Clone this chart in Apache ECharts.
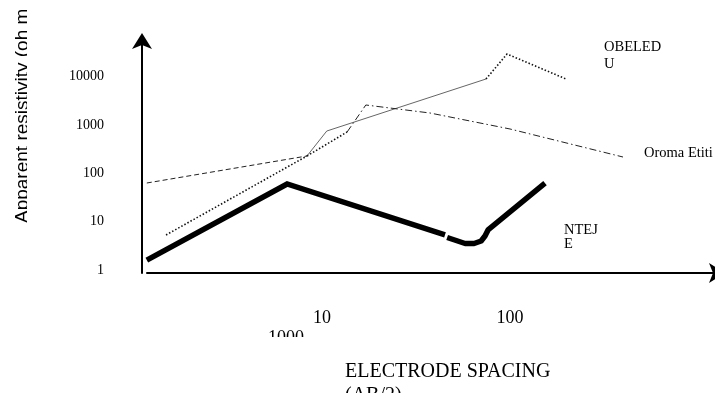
<!DOCTYPE html>
<html>
<head>
<meta charset="utf-8">
<script src="https://cdn.jsdelivr.net/npm/echarts@6/dist/echarts.min.js"></script>
<style>
html,body{margin:0;padding:0;background:#fff;}
#chart{width:715px;height:393px;}
</style>
</head>
<body>
<div id="chart"></div>
<script>
// Tick labels
const xTickValues = [10, 100];
const yTickValues = [1, 10, 100, 1000, 10000];

// Series values: [AB/2 spacing, apparent resistivity (ohm m)]
// NTEJE (thick solid), in two pieces (small break in the drawing)
const ntejeA = [[1.17, 1.62], [6.52, 60.4], [45.1, 5.34]];
const ntejeB = [[46.3, 4.74], [57.7, 3.56], [64.4, 3.56], [70.2, 4.01], [73.6, 5.09], [76.4, 6.77], [153.5, 63.3]];

// OBELEDU: dotted start, thin solid middle, dotted end
const obeleduA = [[1.48, 5.34], [8.32, 229]];
const obeleduB = [[8.32, 229], [10.6, 751], [74.5, 8920]];
const obeleduC = [[74.5, 8920], [96.4, 29300], [198.6, 8920]];

// Oroma Etiti: dashed start, dotted piece, dash-dot end
const oromaA = [[1.17, 63.3], [8.32, 229]];
const oromaB = [[8.32, 229], [13.6, 717]];
const oromaC = [[13.6, 717], [17.1, 2590], [37.5, 1770], [100, 827], [399, 218]];

const chart = echarts.init(document.getElementById('chart'), null, {renderer: 'canvas'});

function seg(name, data, style) {
  return {
    name: name, type: 'line', data: data, symbol: 'none', showSymbol: false,
    silent: true, animation: false,
    lineStyle: Object.assign({join: 'miter', cap: 'butt'}, style)
  };
}

const serifFont = '"Liberation Serif", "Times New Roman", serif';

chart.setOption({
  animation: false,
  backgroundColor: '#ffffff',
  grid: {left: 147, right: 0, top: 41, bottom: 120, containLabel: false, outerBoundsMode: 'none'},
  xAxis: {
    type: 'log', logBase: 10, min: 1.1725, max: 1231,
    axisLine: {show: true, symbol: ['none', 'arrow'], symbolSize: [15, 16], symbolOffset: [0, 10],
      lineStyle: {color: '#000', width: 2}},
    axisTick: {show: false},
    splitLine: {show: false},
    minorTick: {show: false},
    axisLabel: {
      customValues: xTickValues,
      formatter: function (v) { return String(Math.round(v)); },
      margin: 36, color: '#000', fontFamily: serifFont, fontSize: 18
    }
  },
  yAxis: {
    type: 'log', logBase: 10, min: 0.875, max: 54400,
    offset: 5,
    axisLine: {show: true, symbol: ['none', 'arrow'], symbolSize: [15, 16], symbolOffset: [0, 8],
      lineStyle: {color: '#000', width: 2}},
    axisTick: {show: false},
    splitLine: {show: false},
    minorTick: {show: false},
    axisLabel: {
      customValues: yTickValues,
      formatter: function (v) { return String(Math.round(v)); },
      margin: 38, color: '#000', fontFamily: serifFont, fontSize: 14
    }
  },
  series: [
    seg('NTEJE', ntejeA, {color: '#000', width: 5.5}),
    seg('NTEJE', ntejeB, {color: '#000', width: 5.5, join: 'round'}),
    seg('OBELEDU', obeleduA, {color: '#111', width: 1.6, type: [1.5, 2]}),
    seg('OBELEDU', obeleduB, {color: '#666', width: 1}),
    seg('OBELEDU', obeleduC, {color: '#111', width: 1.6, type: [1.5, 2]}),
    seg('Oroma Etiti', oromaA, {color: '#222', width: 1, type: [5, 3]}),
    seg('Oroma Etiti', oromaB, {color: '#111', width: 1.6, type: [1.5, 2]}),
    seg('Oroma Etiti', oromaC, {color: '#222', width: 1, type: [7, 3, 1.5, 3]})
  ],
  graphic: [
    {type: 'text', x: 13, y: 223, rotation: Math.PI / 2, z: 10,
      style: {text: 'Apparent resistivity (oh m', font: '19px "Liberation Sans", Arial, sans-serif',
        fill: '#000', textAlign: 'left', textVerticalAlign: 'top'}},
    {type: 'rect', shape: {x: 27, y: 0, width: 8, height: 235}, z: 11,
      style: {fill: '#ffffff'}},
    {type: 'text', x: 286, y: 329, z: 10,
      style: {text: '1000', font: '18px ' + serifFont, fill: '#000', textAlign: 'center', textVerticalAlign: 'top'}},
    {type: 'rect', shape: {x: 255, y: 337, width: 60, height: 18}, z: 11,
      style: {fill: '#ffffff'}},
    {type: 'text', x: 345, y: 362, z: 10,
      style: {text: 'ELECTRODE SPACING', font: '20px ' + serifFont, fill: '#000', textAlign: 'left', textVerticalAlign: 'top'}},
    {type: 'text', x: 345, y: 386, z: 10,
      style: {text: '(AB/2)', font: '20px ' + serifFont, fill: '#000', textAlign: 'left', textVerticalAlign: 'top'}},
    {type: 'text', x: 604, y: 40, z: 10,
      style: {text: 'OBELED', font: '14.5px ' + serifFont, fill: '#000', textAlign: 'left', textVerticalAlign: 'top'}},
    {type: 'text', x: 604, y: 57, z: 10,
      style: {text: 'U', font: '14.5px ' + serifFont, fill: '#000', textAlign: 'left', textVerticalAlign: 'top'}},
    {type: 'text', x: 644, y: 146, z: 10,
      style: {text: 'Oroma Etiti', font: '14.5px ' + serifFont, fill: '#000', textAlign: 'left', textVerticalAlign: 'top'}},
    {type: 'text', x: 564, y: 223, z: 10,
      style: {text: 'NTEJ', font: '14.5px ' + serifFont, fill: '#000', textAlign: 'left', textVerticalAlign: 'top'}},
    {type: 'text', x: 564, y: 237, z: 10,
      style: {text: 'E', font: '14.5px ' + serifFont, fill: '#000', textAlign: 'left', textVerticalAlign: 'top'}}
  ]
});
</script>
</body>
</html>
